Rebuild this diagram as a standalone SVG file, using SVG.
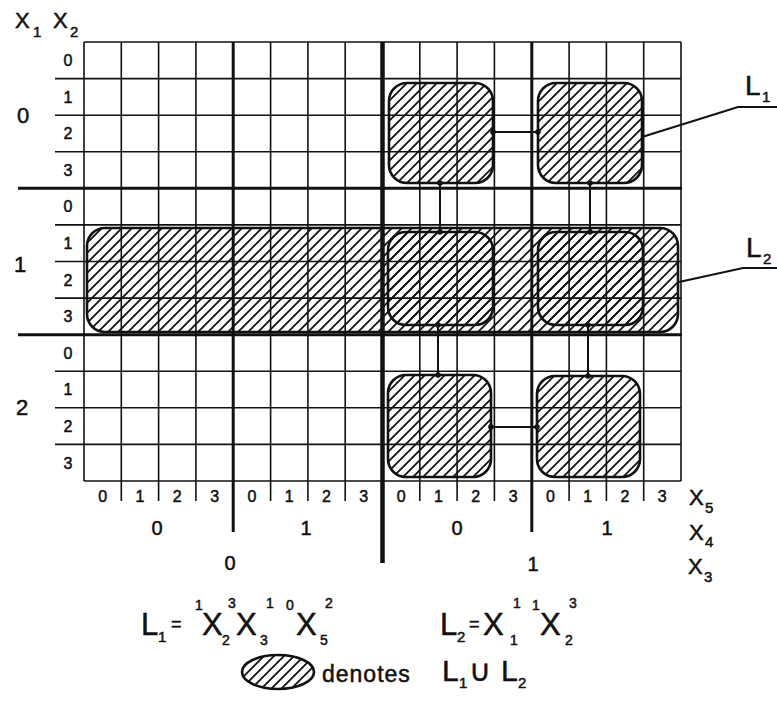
<svg xmlns="http://www.w3.org/2000/svg" width="777" height="707" viewBox="0 0 777 707">
<style>
.t{font-family:"Liberation Sans",Arial,sans-serif;fill:#111;stroke:#111;stroke-width:0.5}
.thin{stroke:#111;stroke-width:1.6;fill:none}
.med{stroke:#111;stroke-width:3;fill:none}
.thk{stroke:#111;stroke-width:4.5;fill:none}
.box{fill:url(#hatch);stroke:#111;stroke-width:2.6}
.con{stroke:#111;stroke-width:2;fill:none}
.dot{fill:#111}
.d{font-size:16px}
.b{font-size:22px}
.s{font-size:15px}
.f{font-size:31px}
.fs{font-size:14px}
</style>
<defs>
<pattern id="hatch" patternUnits="userSpaceOnUse" width="10" height="10">
<path d="M-5,5 L5,-5 M0,10 L10,0 M5,15 L15,5" stroke="#111" stroke-width="1.8"/>
</pattern>
</defs>
<rect width="777" height="707" fill="#fff"/>
<g id="grid">
<line class="thin" x1="84" y1="42" x2="681" y2="42"/>
<line class="thin" x1="55" y1="78.6" x2="681" y2="78.6"/>
<line class="thin" x1="55" y1="115.2" x2="681" y2="115.2"/>
<line class="thin" x1="55" y1="151.8" x2="681" y2="151.8"/>
<line class="thin" x1="55" y1="224.9" x2="681" y2="224.9"/>
<line class="thin" x1="55" y1="261.5" x2="681" y2="261.5"/>
<line class="thin" x1="55" y1="298.1" x2="681" y2="298.1"/>
<line class="thin" x1="55" y1="371.2" x2="681" y2="371.2"/>
<line class="thin" x1="55" y1="407.8" x2="681" y2="407.8"/>
<line class="thin" x1="55" y1="444.4" x2="681" y2="444.4"/>
<line class="thin" x1="84" y1="481" x2="681" y2="481"/>
<line class="med" x1="18" y1="188.3" x2="682" y2="188.3"/>
<line class="med" x1="18" y1="334.7" x2="682" y2="334.7"/>
<line class="thin" x1="84" y1="42" x2="84" y2="481"/>
<line class="thin" x1="121.3" y1="42" x2="121.3" y2="501"/>
<line class="thin" x1="158.6" y1="42" x2="158.6" y2="501"/>
<line class="thin" x1="195.9" y1="42" x2="195.9" y2="501"/>
<line class="med" x1="233.2" y1="42" x2="233.2" y2="532"/>
<line class="thin" x1="270.6" y1="42" x2="270.6" y2="501"/>
<line class="thin" x1="307.9" y1="42" x2="307.9" y2="501"/>
<line class="thin" x1="345.2" y1="42" x2="345.2" y2="501"/>
<line class="thk" x1="382.5" y1="42" x2="382.5" y2="563"/>
<line class="thin" x1="419.8" y1="42" x2="419.8" y2="501"/>
<line class="thin" x1="457.1" y1="42" x2="457.1" y2="501"/>
<line class="thin" x1="494.4" y1="42" x2="494.4" y2="501"/>
<line class="med" x1="531.8" y1="42" x2="531.8" y2="532"/>
<line class="thin" x1="569.1" y1="42" x2="569.1" y2="501"/>
<line class="thin" x1="606.4" y1="42" x2="606.4" y2="501"/>
<line class="thin" x1="643.7" y1="42" x2="643.7" y2="501"/>
<line class="thin" x1="681" y1="42" x2="681" y2="481"/>
</g>
<g id="L2-band"><rect class="box" x="87" y="228" width="591" height="104" rx="18"/></g>
<g id="box-r0-c0"><rect class="box" x="389" y="83" width="104" height="100" rx="18"/></g>
<g id="box-r0-c1"><rect class="box" x="538" y="83" width="104" height="100" rx="18"/></g>
<g id="box-r1-c0"><rect class="box" x="388" y="232" width="105" height="93" rx="18"/></g>
<g id="box-r1-c1"><rect class="box" x="538" y="232" width="105" height="93" rx="18"/></g>
<g id="box-r2-c0"><rect class="box" x="388" y="375" width="103" height="102" rx="18"/></g>
<g id="box-r2-c1"><rect class="box" x="537" y="376" width="103" height="101" rx="18"/></g>
<g id="connectors">
<line class="con" x1="493" y1="132" x2="538" y2="132"/>
<circle class="dot" cx="493" cy="132" r="2.8"/><circle class="dot" cx="538" cy="132" r="2.8"/>
<line class="con" x1="440" y1="183" x2="440" y2="232"/>
<circle class="dot" cx="440" cy="183" r="2.8"/><circle class="dot" cx="440" cy="232" r="2.8"/>
<line class="con" x1="590" y1="183" x2="590" y2="232"/>
<circle class="dot" cx="590" cy="183" r="2.8"/><circle class="dot" cx="590" cy="232" r="2.8"/>
<line class="con" x1="438" y1="325" x2="438" y2="375"/>
<circle class="dot" cx="438" cy="325" r="2.8"/><circle class="dot" cx="438" cy="375" r="2.8"/>
<line class="con" x1="588" y1="325" x2="588" y2="376"/>
<circle class="dot" cx="588" cy="325" r="2.8"/><circle class="dot" cx="588" cy="376" r="2.8"/>
<line class="con" x1="491" y1="427" x2="537" y2="427"/>
<circle class="dot" cx="491" cy="427" r="2.8"/><circle class="dot" cx="537" cy="427" r="2.8"/>
<polyline class="con" points="642,137 738,107 777,107"/>
<polyline class="con" points="679,282 743,268 777,268"/>
</g>
<g id="labels-L">
<text class="t" x="745" y="95" font-size="28">L</text><text class="t s" x="762" y="102">1</text>
<text class="t" x="746" y="257" font-size="28">L</text><text class="t s" x="763" y="264">2</text>
</g>
<g id="axis-labels">
<text class="t b" x="15" y="28">X</text><text class="t s" x="33" y="37">1</text>
<text class="t b" x="53" y="28">X</text><text class="t s" x="70" y="37">2</text>
<text class="t" x="23" y="123" font-size="22" text-anchor="middle">0</text>
<text class="t" x="20" y="272" font-size="22" text-anchor="middle">1</text>
<text class="t" x="22" y="415" font-size="22" text-anchor="middle">2</text>
<g text-anchor="middle" class="t d">
<text x="68" y="66">0</text><text x="68" y="103">1</text><text x="68" y="139">2</text><text x="68" y="176">3</text>
<text x="68" y="212">0</text><text x="68" y="249">1</text><text x="68" y="286">2</text><text x="68" y="322">3</text>
<text x="68" y="359">0</text><text x="68" y="395">1</text><text x="68" y="432">2</text><text x="68" y="469">3</text>
<text x="102.6" y="502">0</text><text x="140" y="502">1</text><text x="177.3" y="502">2</text><text x="214.6" y="502">3</text>
<text x="251.9" y="502">0</text><text x="289.2" y="502">1</text><text x="326.5" y="502">2</text><text x="363.8" y="502">3</text>
<text x="401.2" y="502">0</text><text x="438.5" y="502">1</text><text x="475.8" y="502">2</text><text x="513.1" y="502">3</text>
<text x="550.4" y="502">0</text><text x="587.7" y="502">1</text><text x="625" y="502">2</text><text x="662.3" y="502">3</text>
</g>
<g text-anchor="middle" class="t" font-size="20">
<text x="157" y="535">0</text><text x="306" y="535">1</text>
<text x="457" y="535">0</text><text x="607" y="535">1</text>
<text x="230" y="570">0</text><text x="533" y="571">1</text>
</g>
<text class="t b" x="689" y="505">X</text><text class="t s" x="705" y="513">5</text>
<text class="t b" x="689" y="540">X</text><text class="t s" x="705" y="547">4</text>
<text class="t b" x="688" y="574">X</text><text class="t s" x="704" y="582">3</text>
</g>
<g id="formula-L1" class="t">
<text class="f" x="141" y="635">L</text><text class="s" x="158" y="642">1</text>
<text x="171" y="630" font-size="18">=</text>
<text class="fs" x="195" y="610">1</text><text class="f" x="202" y="635">X</text><text class="fs" x="222" y="645">2</text><text class="fs" x="228" y="608">3</text>
<text class="f" x="236" y="635">X</text><text class="fs" x="260" y="645">3</text><text class="fs" x="266" y="608">1</text>
<text class="fs" x="286" y="610">0</text><text class="f" x="296" y="635">X</text><text class="fs" x="320" y="645">5</text><text class="fs" x="325" y="608">2</text>
</g>
<g id="formula-L2" class="t">
<text class="f" x="440" y="635">L</text><text class="s" x="457" y="642">2</text>
<text x="469" y="630" font-size="18">=</text>
<text class="f" x="483" y="635">X</text><text class="fs" x="510" y="645">1</text><text class="fs" x="513" y="608">1</text>
<text class="fs" x="532" y="610">1</text><text class="f" x="540" y="635">X</text><text class="fs" x="565" y="645">2</text><text class="fs" x="569" y="608">3</text>
</g>
<g id="legend">
<ellipse class="box" cx="278" cy="672" rx="36" ry="17"/>
<text class="t" x="322" y="682" font-size="23" letter-spacing="1">denotes</text>
<text class="t" x="442" y="681" font-size="30">L</text><text class="t s" x="459" y="688">1</text>
<text class="t" x="469" y="681" font-size="30">∪</text>
<text class="t" x="501" y="681" font-size="30">L</text><text class="t s" x="518" y="688">2</text>
</g>
</svg>
